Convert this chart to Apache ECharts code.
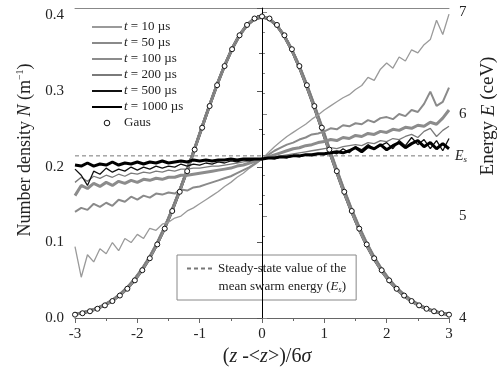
<!DOCTYPE html>
<html><head><meta charset="utf-8">
<script src="https://cdn.jsdelivr.net/npm/echarts@6/dist/echarts.min.js"></script>
<style>html,body{margin:0;padding:0;background:#fff}#c{width:500px;height:369px}</style>
</head><body><div id="c"></div>
<script>
// ---- data ----
const xTicks = [-3, -2, -1, 0, 1, 2, 3];
const gausX = [-3,-2.88,-2.76,-2.64,-2.52,-2.4,-2.28,-2.16,-2.04,-1.92,-1.8,-1.68,-1.56,-1.44,-1.32,-1.2,-1.08,-0.96,-0.84,-0.72,-0.6,-0.48,-0.36,-0.24,-0.12,0,
  0.12,0.24,0.36,0.48,0.6,0.72,0.84,0.96,1.08,1.2,1.32,1.44,1.56,1.68,1.8,1.92,2.04,2.16,2.28,2.4,2.52,2.64,2.76,2.88,3];
const gausN = [0.0044,0.0063,0.0089,0.0122,0.0167,0.0224,0.0297,0.0387,0.0498,0.0632,0.0790,0.0973,0.1182,0.1415,0.1669,0.1942,0.2227,0.2517,0.2803,0.3079,0.3332,0.3555,0.3739,0.3876,0.3961,0.3989,
  0.3961,0.3876,0.3739,0.3555,0.3332,0.3079,0.2803,0.2517,0.2227,0.1942,0.1669,0.1415,0.1182,0.0973,0.0790,0.0632,0.0498,0.0387,0.0297,0.0224,0.0167,0.0122,0.0089,0.0063,0.0044];
// density profiles of the swarm (late times / early times), nearly on top of the Gaussian
const densityLate = [0.0050,0.0068,0.0093,0.0127,0.0172,0.0230,0.0303,0.0394,0.0506,0.0640,0.0799,0.0983,0.1193,0.1427,0.1682,0.1955,0.2240,0.2530,0.2815,0.3088,0.3339,0.3560,0.3742,0.3877,0.3960,0.3985,
  0.3953,0.3866,0.3727,0.3541,0.3316,0.3060,0.2787,0.2500,0.2210,0.1927,0.1655,0.1402,0.1170,0.0962,0.0781,0.0624,0.0492,0.0382,0.0293,0.0221,0.0165,0.0121,0.0088,0.0062,0.0045];
const densityEarly = [0.0055,0.0075,0.0102,0.0138,0.0185,0.0245,0.0320,0.0413,0.0527,0.0663,0.0823,0.1008,0.1218,0.1452,0.1706,0.1977,0.2259,0.2546,0.2826,0.3094,0.3340,0.3556,0.3733,0.3864,0.3945,0.3972,
  0.3946,0.3866,0.3735,0.3560,0.3345,0.3098,0.2830,0.2548,0.2260,0.1976,0.1703,0.1448,0.1214,0.1003,0.0817,0.0656,0.0520,0.0406,0.0314,0.0240,0.0181,0.0134,0.0098,0.0070,0.0050];
const energyX = [-3.0,-2.9,-2.8,-2.7,-2.6,-2.5,-2.4,-2.3,-2.2,-2.1,-2.0,-1.9,-1.8,-1.7,-1.6,-1.5,-1.4,-1.3,-1.2,-1.1,-1.0,-0.9,-0.8,-0.7,-0.6,-0.5,-0.4,-0.3,-0.2,-0.1,0.0,
  0.1,0.2,0.3,0.4,0.5,0.6,0.7,0.8,0.9,1.0,1.1,1.2,1.3,1.4,1.5,1.6,1.7,1.8,1.9,2.0,2.1,2.2,2.3,2.4,2.5,2.6,2.7,2.8,2.9,3.0];
const e10 = [4.70,4.40,4.62,4.55,4.68,4.63,4.74,4.66,4.78,4.74,4.82,4.78,4.88,4.86,4.92,4.94,4.98,5.00,5.05,5.08,5.12,5.16,5.20,5.24,5.29,5.33,5.38,5.42,5.47,5.51,5.56,
  5.62,5.68,5.73,5.78,5.82,5.86,5.90,5.95,5.99,6.04,6.08,6.12,6.16,6.19,6.24,6.28,6.36,6.33,6.44,6.50,6.45,6.56,6.52,6.63,6.60,6.68,6.73,6.92,6.78,6.98];
const e50 = [5.04,5.08,5.06,5.12,5.09,5.13,5.10,5.16,5.14,5.19,5.16,5.20,5.18,5.22,5.21,5.23,5.22,5.26,5.25,5.28,5.29,5.31,5.33,5.35,5.37,5.39,5.42,5.45,5.48,5.52,5.56,
  5.60,5.64,5.67,5.70,5.72,5.75,5.77,5.80,5.81,5.83,5.86,5.85,5.89,5.88,5.91,5.90,5.94,5.92,5.96,5.97,5.95,6.00,5.98,6.04,6.02,6.10,6.22,6.08,6.12,6.26];
const e100 = [5.20,5.30,5.27,5.32,5.29,5.33,5.30,5.34,5.32,5.35,5.33,5.36,5.35,5.37,5.36,5.38,5.38,5.40,5.40,5.41,5.42,5.43,5.44,5.45,5.46,5.47,5.49,5.50,5.52,5.54,5.56,
  5.58,5.60,5.62,5.64,5.66,5.67,5.69,5.70,5.72,5.73,5.75,5.74,5.77,5.76,5.79,5.78,5.81,5.80,5.83,5.82,5.85,5.84,5.87,5.86,5.89,5.88,5.92,5.90,5.96,6.04];
const e200 = [5.33,5.38,5.34,5.39,5.37,5.40,5.38,5.41,5.39,5.42,5.41,5.43,5.42,5.44,5.43,5.45,5.44,5.46,5.46,5.47,5.47,5.48,5.49,5.49,5.50,5.51,5.52,5.53,5.54,5.55,5.56,
  5.57,5.58,5.59,5.60,5.61,5.62,5.63,5.64,5.65,5.66,5.67,5.66,5.68,5.69,5.70,5.69,5.72,5.71,5.74,5.73,5.76,5.75,5.78,5.80,5.77,5.83,5.86,5.78,5.84,5.88];
const e500 = [5.46,5.40,5.30,5.44,5.41,5.47,5.43,5.46,5.44,5.48,5.45,5.48,5.46,5.49,5.47,5.49,5.48,5.51,5.49,5.51,5.50,5.52,5.51,5.53,5.52,5.54,5.53,5.55,5.54,5.56,5.56,
  5.57,5.56,5.58,5.57,5.59,5.58,5.60,5.59,5.61,5.60,5.63,5.61,5.66,5.62,5.68,5.65,5.70,5.66,5.69,5.72,5.66,5.74,5.69,5.77,5.70,5.75,5.66,5.74,5.64,5.76];
const e1000 = [5.50,5.49,5.52,5.49,5.51,5.50,5.53,5.50,5.52,5.51,5.53,5.51,5.53,5.52,5.54,5.52,5.53,5.54,5.53,5.55,5.54,5.55,5.54,5.55,5.55,5.56,5.55,5.56,5.56,5.56,5.56,
  5.57,5.57,5.58,5.58,5.59,5.59,5.60,5.60,5.61,5.61,5.62,5.63,5.62,5.64,5.67,5.63,5.68,5.66,5.70,5.65,5.69,5.72,5.67,5.71,5.74,5.68,5.72,5.66,5.71,5.66];
const steadyEs = 5.59;
const tNames = ['t = 10 µs','t = 50 µs','t = 100 µs','t = 200 µs','t = 500 µs','t = 1000 µs'];
const esName = 'Steady-state value of the';

// ---- styles ----
const FONT = '"Liberation Serif","Times New Roman",serif';
const styles = {
  't = 10 µs':   {color:'#9a9a9a', width:1.3},
  't = 50 µs':   {color:'#8a8a8a', width:2},
  't = 100 µs':  {color:'#8c8c8c', width:3},
  't = 200 µs':  {color:'#7a7a7a', width:1.3},
  't = 500 µs':  {color:'#111',    width:1.3},
  't = 1000 µs': {color:'#000',    width:3}
};
const energyByName = {'t = 10 µs':e10,'t = 50 µs':e50,'t = 100 µs':e100,'t = 200 µs':e200,'t = 500 µs':e500,'t = 1000 µs':e1000};
const densityByName = {'t = 10 µs':densityEarly,'t = 50 µs':densityEarly,'t = 100 µs':densityLate,'t = 200 µs':densityEarly,'t = 500 µs':densityLate,'t = 1000 µs':densityLate};
const zip = (xs, ys) => xs.map((x,i)=>[x, ys[i]]);

const series = [];
// density curves: black ones first so the grey ones sit on top
['t = 1000 µs','t = 500 µs','t = 100 µs','t = 50 µs','t = 10 µs','t = 200 µs'].forEach(n=>{
  series.push({name:n, type:'line', xAxisIndex:0, yAxisIndex:0, data:zip(gausX, densityByName[n]),
    symbol:'none', lineStyle:{color:styles[n].color, width:styles[n].width}, itemStyle:{color:styles[n].color}, z:2});
});
// energy curves
tNames.forEach(n=>{
  series.push({name:n, type:'line', xAxisIndex:0, yAxisIndex:1, data:zip(energyX, energyByName[n]),
    symbol:'none', lineStyle:{color:styles[n].color, width:styles[n].width}, itemStyle:{color:styles[n].color}, z:3});
});
// steady state
series.push({name:esName, type:'line', xAxisIndex:0, yAxisIndex:1, data:[[-3, steadyEs],[3, steadyEs]],
  symbol:'none', lineStyle:{color:'#777', width:1, type:[4,3]}, itemStyle:{color:'#777'}, z:2,
  endLabel:{show:true, distance:6, formatter:'{i|E}{s|s}', rich:{i:{fontFamily:FONT, fontStyle:'italic', fontSize:14, color:'#222'}, s:{fontFamily:FONT, fontStyle:'italic', fontSize:9, color:'#222', verticalAlign:'bottom', padding:[8,0,0,0]}}}});
// Gaussian
series.push({name:'Gaus', type:'line', xAxisIndex:0, yAxisIndex:0, data:zip(gausX, gausN),
  symbol:'circle', symbolSize:5, lineStyle:{width:0, opacity:0}, itemStyle:{color:'#fff', borderColor:'#111', borderWidth:1}, z:5,
  markLine:{silent:true, symbol:'none', label:{show:false}, lineStyle:{color:'#000', width:1, type:'solid'}, data:[{xAxis:0}]}});

const tick = {fontFamily:FONT, fontSize:15, color:'#222'};
const option = {
  animation:false,
  backgroundColor:'#fff',
  grid:{left:75, right:51, top:8, bottom:51, containLabel:false, outerBoundsMode:'none'},
  legend:[{
    data: tNames.map(n=>({name:n, itemStyle:{opacity:0}})).concat([{name:'Gaus', itemStyle:{borderWidth:1}}]),
    orient:'vertical', left:91, top:20, itemWidth:30, itemHeight:7, itemGap:2, padding:0,
    selectedMode:false,
    textStyle:{fontFamily:FONT, fontSize:13, lineHeight:14, color:'#222', padding:[0,0,0,-3],
      rich:{i:{fontFamily:FONT, fontStyle:'italic', fontSize:13, lineHeight:14, color:'#222'}}},
    formatter: n => n.indexOf('t ')===0 ? '{i|t}' + n.slice(1) : n
  },{
    data:[{name:esName, itemStyle:{opacity:0}}],
    left:177, top:255, itemWidth:26, itemHeight:7, padding:[7,10,25,9],
    borderColor:'#888', borderWidth:1, backgroundColor:'#fff', selectedMode:false,
    textStyle:{fontFamily:FONT, fontSize:13, color:'#222'}
  }],
  graphic:[{type:'text', right:500-346, top:280, z:100,
    style:{text:'mean swarm energy ({i|E}{s|s})', font:'13px '+FONT, fill:'#222', align:'right',
      rich:{i:{fontFamily:FONT, fontStyle:'italic', fontSize:13, fill:'#222'}, s:{fontFamily:FONT, fontStyle:'italic', fontSize:8, fill:'#222', padding:[6,0,0,0]}}}}],
  xAxis:[{
    type:'value', min:-3, max:3, interval:1, position:'bottom',
    axisLine:{show:true, onZero:false, lineStyle:{color:'#666'}},
    axisTick:{show:true, length:5, lineStyle:{color:'#666'}},
    minorTick:{show:true, splitNumber:2, length:3, lineStyle:{color:'#666'}},
    splitLine:{show:false},
    axisLabel:{...tick, margin:9, formatter:v=> xTicks.includes(v) ? String(v) : ''},
    name:'({i|z} -<{i|z}>)/6{g|σ}', nameLocation:'middle', nameGap:25,
    nameTextStyle:{fontFamily:FONT, fontSize:20, color:'#222', padding:[0,0,0,10],
      rich:{i:{fontFamily:FONT, fontStyle:'italic', fontSize:20, color:'#222'}, g:{fontFamily:FONT, fontStyle:'italic', fontSize:20, color:'#222'}}}
  },{
    type:'value', min:-3, max:3, position:'top',
    axisLine:{show:true, onZero:false, lineStyle:{color:'#888'}},
    axisTick:{show:false}, axisLabel:{show:false}, splitLine:{show:false}
  }],
  yAxis:[{
    type:'value', min:0, max:0.41, interval:0.1, position:'left',
    axisLine:{show:true, lineStyle:{color:'#555'}},
    axisTick:{show:true, length:5, lineStyle:{color:'#555'}},
    minorTick:{show:true, splitNumber:2, length:3, lineStyle:{color:'#555'}},
    splitLine:{show:false},
    axisLabel:{...tick, margin:11, showMaxLabel:false, formatter:v=>v.toFixed(1)},
    name:'Number density {i|N} (m{s|−1})', nameLocation:'middle', nameRotate:90, nameGap:34,
    nameTextStyle:{fontFamily:FONT, fontSize:18, color:'#222', padding:[0,0,0,26],
      rich:{i:{fontFamily:FONT, fontStyle:'italic', fontSize:18, color:'#222'}, s:{fontFamily:FONT, fontSize:10, color:'#222', verticalAlign:'top', padding:[0,0,10,0]}}}
  },{
    type:'value', min:4, max:7.04, interval:1, position:'right',
    axisLine:{show:true, lineStyle:{color:'#888'}},
    axisTick:{show:true, length:5, lineStyle:{color:'#888'}},
    minorTick:{show:true, splitNumber:5, length:3, lineStyle:{color:'#888'}},
    splitLine:{show:false},
    axisLabel:{...tick, margin:10, showMaxLabel:true, formatter:v=> Math.abs(v-Math.round(v))<1e-6 ? String(Math.round(v)) : ''},
    name:'Energy {i|E} (ceV)', nameLocation:'middle', nameRotate:90, nameGap:30,
    nameTextStyle:{fontFamily:FONT, fontSize:19, color:'#222', padding:[0,0,0,94],
      rich:{i:{fontFamily:FONT, fontStyle:'italic', fontSize:19, color:'#222'}}}
  }],
  series: series
};
const chart = echarts.init(document.getElementById('c'), null, {renderer:'canvas'});
chart.setOption(option);
</script></body></html>
